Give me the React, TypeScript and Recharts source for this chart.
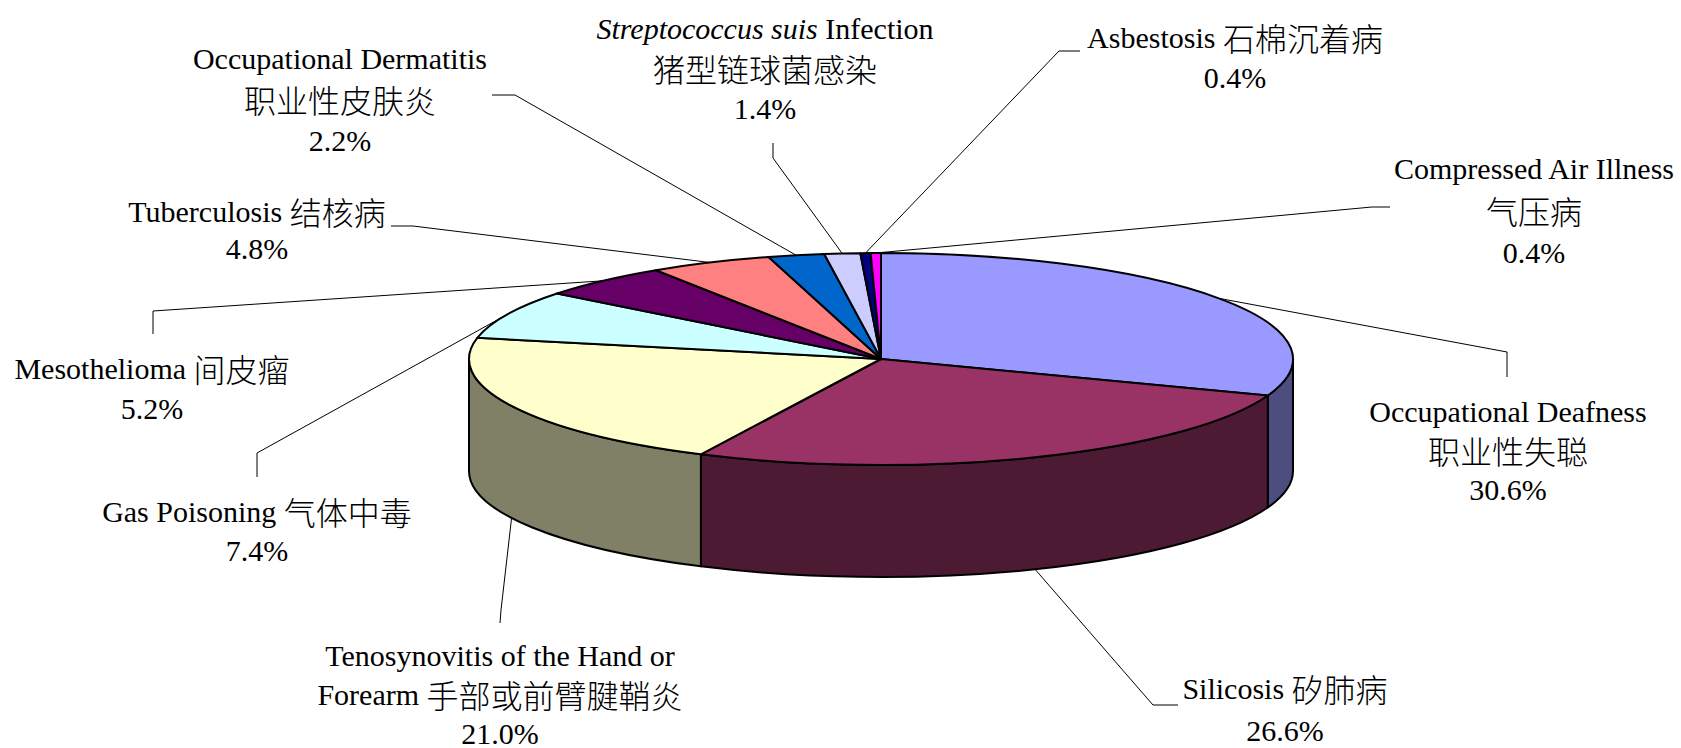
import React from "react";
import { PieChart, Pie, Cell } from "recharts";

// ─── Data ──────────────────────────────────────────────────────────────────

const categories = [
  "Occupational Deafness",
  "Silicosis",
  "Tenosynovitis of the Hand or Forearm",
  "Gas Poisoning",
  "Mesothelioma",
  "Tuberculosis",
  "Occupational Dermatitis",
  "Streptococcus suis Infection",
  "Asbestosis",
  "Compressed Air Illness",
];

const categoriesZh = [
  "职业性失聪",
  "矽肺病",
  "手部或前臂腱鞘炎",
  "气体中毒",
  "间皮瘤",
  "结核病",
  "职业性皮肤炎",
  "猪型链球菌感染",
  "石棉沉着病",
  "气压病",
];

const shares = [30.6, 26.6, 21.0, 7.4, 5.2, 4.8, 2.2, 1.4, 0.4, 0.4];

const colors = [
  "#9999FF",
  "#993366",
  "#FFFFCC",
  "#CCFFFF",
  "#660066",
  "#FF8080",
  "#0066CC",
  "#CCCCFF",
  "#000080",
  "#FF00FF",
];

const data = categories.map((name, i) => ({ name, zh: categoriesZh[i], value: shares[i] }));

// ─── Layout ────────────────────────────────────────────────────────────────

const W = 1681;
const H = 748;
const CX = 881;
const CY = 359;
const RX = 412;
const TILT = 106 / 412; // vertical squash of the pie top
const DEPTH = 112; // height of the pie wall

const LATIN = "'Liberation Serif', 'Times New Roman', serif";
const CJK = "'Noto Sans CJK SC', 'Noto Sans CJK TC', sans-serif";
const ITALIC_TERMS = /(Streptococcus suis)/;

// label block centre x, first row y, row gap, how lines break, leader elbow points
const labelLayout = [
  { x: 1508, y: 411, gap: 39, mode: "stack", leader: [[1507, 377], [1507, 352]] },
  { x: 1285, y: 688, gap: 42, mode: "inline", leader: [[1178, 705], [1153, 705]] },
  { x: 500, y: 655, gap: 39, mode: "wrap", wrap: 5, leader: [[500, 623], [501, 610]] },
  { x: 257, y: 511, gap: 39, mode: "inline", leader: [[257, 477], [257, 453]] },
  { x: 152, y: 368, gap: 40, mode: "inline", leader: [[153, 334], [153, 311]] },
  { x: 257, y: 211, gap: 37, mode: "inline", leader: [[391, 226], [413, 226]] },
  { x: 340, y: 58, gap: 41, mode: "stack", leader: [[492, 95], [515, 95]] },
  { x: 765, y: 28, gap: 40, mode: "stack", leader: [[773, 143], [773, 158]] },
  { x: 1235, y: 37, gap: 40, mode: "inline", leader: [[1080, 51], [1059, 51]] },
  { x: 1534, y: 168, gap: 42, mode: "stack", leader: [[1390, 207], [1372, 207]] },
];

// ─── Helpers ───────────────────────────────────────────────────────────────

function pt(cx: number, cy: number, rx: number, ry: number, deg: number) {
  const r = (deg * Math.PI) / 180;
  return [cx + rx * Math.cos(r), cy - ry * Math.sin(r)];
}

function shade(hex: string, f: number) {
  const n = parseInt(hex.slice(1), 16);
  const r = Math.round(((n >> 16) & 255) * f);
  const g = Math.round(((n >> 8) & 255) * f);
  const b = Math.round((n & 255) * f);
  return `rgb(${r},${g},${b})`;
}

function TopFace(props: any) {
  const { cx, cy, outerRadius, startAngle, endAngle, fill } = props;
  const rx = outerRadius;
  const ry = rx * TILT;
  const [x1, y1] = pt(cx, cy, rx, ry, startAngle);
  const [x2, y2] = pt(cx, cy, rx, ry, endAngle);
  const large = Math.abs(startAngle - endAngle) > 180 ? 1 : 0;
  const d = `M${cx},${cy} L${x1},${y1} A${rx},${ry} 0 ${large} 1 ${x2},${y2} Z`;
  return <path d={d} fill={fill} stroke="#000" strokeWidth={2} strokeLinejoin="round" />;
}

function SideWall(props: any) {
  const { cx, cy, outerRadius, startAngle, endAngle, fill } = props;
  // only the front half (angles -180..0) shows a wall
  const a2 = Math.min(startAngle, 0);
  const a1 = Math.max(endAngle, -180);
  if (a2 <= a1) return <g />;
  const rx = outerRadius;
  const ry = rx * TILT;
  const [x2, y2] = pt(cx, cy, rx, ry, a2);
  const [x1, y1] = pt(cx, cy, rx, ry, a1);
  const d =
    `M${x2},${y2} A${rx},${ry} 0 0 1 ${x1},${y1} ` +
    `L${x1},${y1 + DEPTH} A${rx},${ry} 0 0 0 ${x2},${y2 + DEPTH} Z`;
  return <path d={d} fill={shade(fill, 0.5)} stroke="#000" strokeWidth={2} strokeLinejoin="round" />;
}

function labelLines(entry: any, lay: any) {
  const pct = `${Number(entry.value).toFixed(1)}%`;
  if (lay.mode === "stack") return [entry.name, entry.zh, pct];
  if (lay.mode === "inline") return [`${entry.name} ${entry.zh}`, pct];
  const words = entry.name.split(" ");
  return [words.slice(0, lay.wrap).join(" "), `${words.slice(lay.wrap).join(" ")} ${entry.zh}`, pct];
}

function runs(line: string) {
  const out: { text: string; cjk: boolean; italic: boolean }[] = [];
  line.split(/([\u3400-\u9fff]+)/).filter(Boolean).forEach((part) => {
    if (/[\u3400-\u9fff]/.test(part)) {
      out.push({ text: part, cjk: true, italic: false });
    } else {
      part.split(ITALIC_TERMS).filter(Boolean).forEach((p) => {
        out.push({ text: p, cjk: false, italic: ITALIC_TERMS.test(p) });
      });
    }
  });
  return out;
}

const renderLabel = (props: any) => {
  const { index, midAngle, cx, cy, outerRadius } = props;
  const entry = props.payload && props.payload.zh ? props.payload : props;
  const lay = labelLayout[index];
  const rx = outerRadius;
  const ry = rx * TILT;
  const rad = (midAngle * Math.PI) / 180;
  const ax = cx + rx * Math.cos(rad);
  let ay = cy - ry * Math.sin(rad);
  if (Math.sin(rad) < 0) ay += DEPTH;
  const pts = [...lay.leader, [ax, ay]].map((p) => p.join(",")).join(" ");
  const lines = labelLines(entry, lay);
  return (
    <g key={`label-${index}`}>
      <polyline points={pts} fill="none" stroke="#000" strokeWidth={1} />
      {lines.map((ln, k) => (
        <text
          key={k}
          x={lay.x}
          y={lay.y + k * lay.gap}
          textAnchor="middle"
          dominantBaseline="central"
          fill="#000"
        >
          {runs(ln).map((r, j) => (
            <tspan
              key={j}
              fontFamily={r.cjk ? CJK : LATIN}
              fontSize={r.cjk ? 32 : 30}
              fontWeight={r.cjk ? 300 : 400}
              fontStyle={r.italic ? "italic" : "normal"}
            >
              {r.text}
            </tspan>
          ))}
        </text>
      ))}
    </g>
  );
};

// ─── Chart ─────────────────────────────────────────────────────────────────

export default function App() {
  return (
    <div style={{ position: "absolute", left: 0, top: 0, width: W, height: H, background: "#fff" }}>
      <PieChart width={W} height={H} margin={{ top: 0, right: 0, bottom: 0, left: 0 }}>
        <Pie
          data={data}
          dataKey="value"
          nameKey="name"
          cx={CX}
          cy={CY}
          outerRadius={RX}
          startAngle={90}
          endAngle={-270}
          shape={SideWall}
          label={false}
          labelLine={false}
          isAnimationActive={false}
        >
          {data.map((_, i) => (
            <Cell key={i} fill={colors[i]} />
          ))}
        </Pie>
        <Pie
          data={data}
          dataKey="value"
          nameKey="name"
          cx={CX}
          cy={CY}
          outerRadius={RX}
          startAngle={90}
          endAngle={-270}
          shape={TopFace}
          label={renderLabel}
          labelLine={false}
          isAnimationActive={false}
        >
          {data.map((_, i) => (
            <Cell key={i} fill={colors[i]} />
          ))}
        </Pie>
      </PieChart>
    </div>
  );
}
